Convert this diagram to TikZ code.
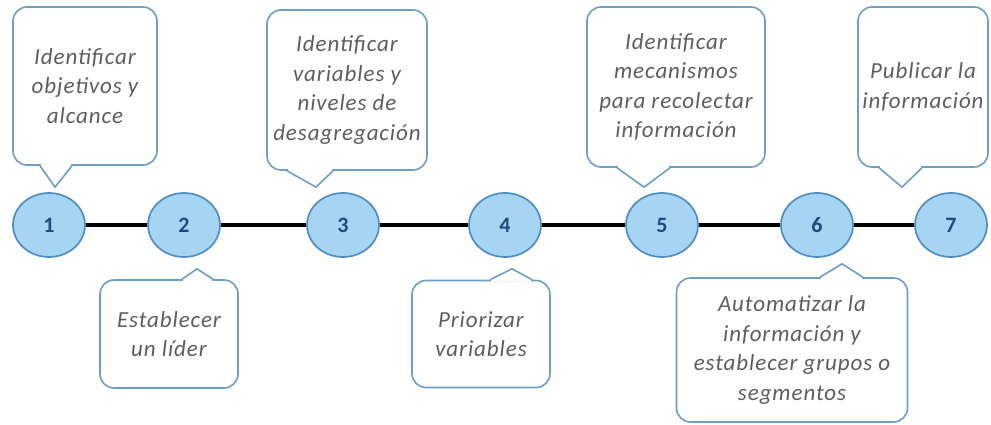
\documentclass[tikz,border=0pt]{standalone}
\usepackage{fontspec}
\setmainfont{Carlito}
\usetikzlibrary{shapes.geometric,calc}
\definecolor{stepfill}{HTML}{A6D5F3}
\definecolor{stepline}{HTML}{4F8DC2}
\definecolor{stepnum}{HTML}{1D4C7A}
\definecolor{noteline}{HTML}{6E9EC6}
\definecolor{notetext}{HTML}{5E5E5E}

\begin{document}
\begin{tikzpicture}[x=1pt,y=-1pt,
    stepnode/.style={ellipse, draw=stepline, line width=1.7pt, fill=stepfill,
        minimum width=72pt, minimum height=64pt, inner sep=0pt, text=stepnum,
        font=\fontsize{22}{26}\selectfont\bfseries},
    notebox/.style={draw=noteline, line width=1.6pt, rounded corners=14pt, fill=white,
        align=center, inner sep=0pt, text=notetext,
        font=\fontsize{23}{29.5}\selectfont\itshape\addfontfeatures{LetterSpace=4}},
    tipline/.style={draw=noteline, line width=1.6pt, line join=miter}]

    % Bounding box
    \useasboundingbox (0,0) rectangle (991,425);

    % Steps on the timeline
    \foreach \i/\x in {1/49,2/184,3/343,4/505,5/662,6/817,7/951}
        \node[stepnode] (s\i) at (\x,225) {\i};

    % Timeline
    \foreach \i [count=\j from 2] in {1,...,6}
        \draw[line width=3.2pt] (s\i) -- (s\j);

    % Notes above the line
    \node[notebox, minimum width=144pt, minimum height=158pt] (n1) at (85,86)
        {Identificar\\objetivos y\\alcance};
    \node[notebox, minimum width=160pt, minimum height=160pt] (n3) at (347,90)
        {Identificar\\variables y\\niveles de\\desagregación};
    \node[notebox, minimum width=178pt, minimum height=160pt] (n5) at (676,87)
        {Identificar\\mecanismos\\para recolectar\\información};
    \node[notebox, minimum width=130pt, minimum height=160pt] (n7) at (923,87)
        {Publicar la\\información};

    % Notes below the line
    \node[notebox, minimum width=138pt, minimum height=108pt] (n2) at (169,334)
        {Establecer\\un líder};
    \node[notebox, minimum width=138pt, minimum height=107pt] (n4) at (481,334)
        {Priorizar\\variables};
    \node[notebox, minimum width=231pt, minimum height=144pt] (n6) at (792,350)
        {Automatizar la\\información y\\establecer grupos o\\segmentos};

    % Pointers down to the steps
    \foreach \n/\a/\b/\tx in {1/-45/-13/6, 3/-60/-14/-27, 5/-59/-6/-18, 7/-44/-1/-49} {
        \fill[white] ($(n\n.south)+(\a+1,-2)$) -- ($(n\n.south)+(\a+1,0)$) --
            ($(s\n.north)+(\tx,-5)$) -- ($(n\n.south)+(\b-1,0)$) -- ($(n\n.south)+(\b-1,-2)$) -- cycle;
        \draw[tipline] ($(n\n.south)+(\a,0)$) -- ($(s\n.north)+(\tx,-5)$) -- ($(n\n.south)+(\b,0)$);
    }

    % Pointers up to the steps
    \foreach \n/\a/\b/\tx/\ty in {2/13/44/13/11, 4/9/51/7/11, 6/28/71/25/6} {
        \fill[white] ($(n\n.north)+(\a+1,2)$) -- ($(n\n.north)+(\a+1,0)$) --
            ($(s\n.south)+(\tx,\ty)$) -- ($(n\n.north)+(\b-1,0)$) -- ($(n\n.north)+(\b-1,2)$) -- cycle;
        \draw[tipline] ($(n\n.north)+(\a,0)$) -- ($(s\n.south)+(\tx,\ty)$) -- ($(n\n.north)+(\b,0)$);
    }
\end{tikzpicture}
\end{document}
